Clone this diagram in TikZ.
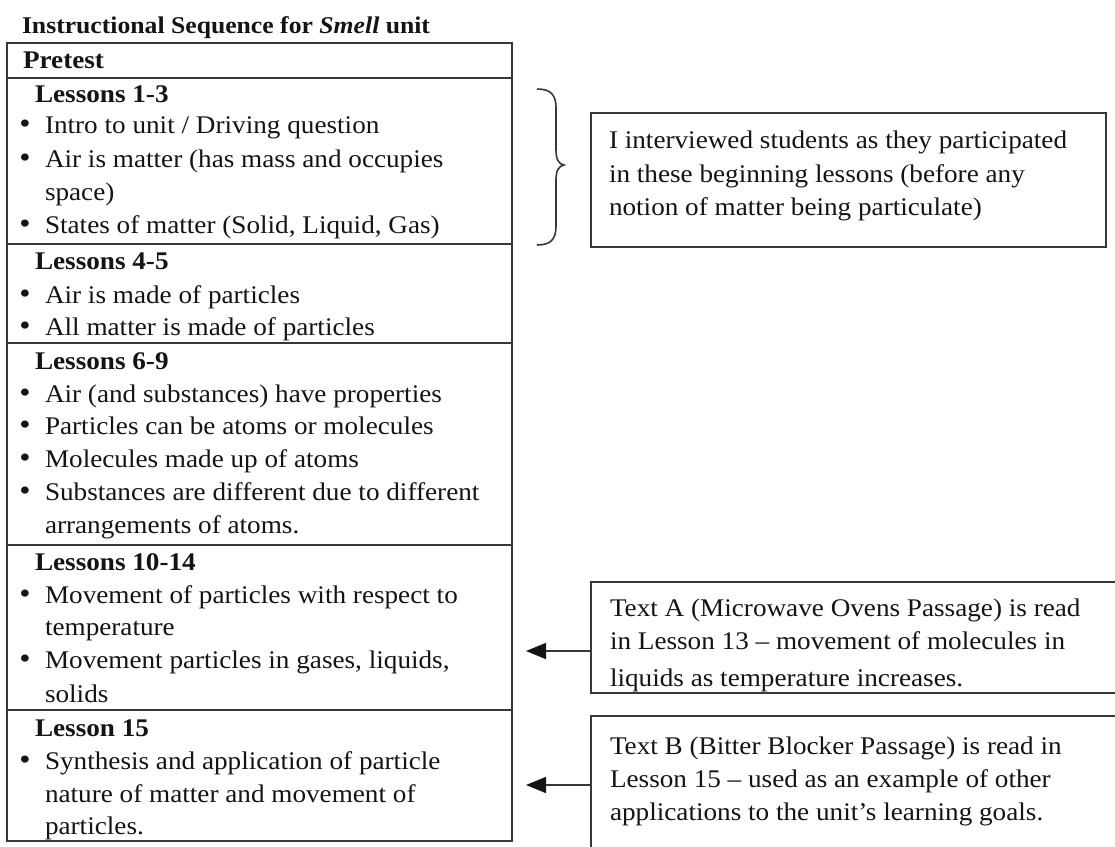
\documentclass[tikz,border=0pt]{standalone}
\usepackage{fontspec}
\setmainfont{Liberation Serif}[FakeStretch=1.07]
\usetikzlibrary{arrows.meta}
\definecolor{ink}{HTML}{141414}
\definecolor{edge}{HTML}{383838}
\newcommand{\bodyfont}{\fontsize{25.4}{30}\selectfont}
\newcommand{\titlefont}{\fontsize{24}{28}\selectfont}
\newcommand{\bulletmark}{{\fontsize{30}{30}\selectfont\textbullet}}
\tikzset{
  ln/.style={anchor=base west, inner sep=0pt, outer sep=0pt, font=\bodyfont, text=ink},
  hd/.style={ln, font=\bodyfont\bfseries},
  bl/.style={anchor=base, inner sep=0pt, outer sep=0pt, text=ink},
  frame/.style={draw=edge, line width=1.6pt, rectangle, inner sep=0pt, outer sep=0pt, anchor=north west},
  arr/.style={draw=edge, line width=1.6pt, -{Triangle[length=20pt,width=16pt,fill=ink,color=ink]}},
  bracestyle/.style={draw=edge, line width=1.6pt}
}
\begin{document}
\begin{tikzpicture}[x=1pt,y=-1pt]
\clip (0,0) rectangle (1115,846);
\fill[white] (0,0) rectangle (1115,846);

% title
\node[ln, font=\titlefont\bfseries] (title) at (22,33) {Instructional Sequence for \textit{Smell} unit};

% table rows
\node[frame, minimum width=505pt, minimum height=35pt]  (r0) at (7,43)  {};
\node[frame, minimum width=505pt, minimum height=166pt] (r1) at (7,78)  {};
\node[frame, minimum width=505pt, minimum height=99pt]  (r2) at (7,244) {};
\node[frame, minimum width=505pt, minimum height=202pt] (r3) at (7,343) {};
\node[frame, minimum width=505pt, minimum height=165pt] (r4) at (7,545) {};
\node[frame, minimum width=505pt, minimum height=131pt] (r5) at (7,710) {};

% row texts
\node[hd] (p0) at (23,68) {Pretest};

\node[hd] (h1) at (35,102) {Lessons 1-3};
\node[bl] (b11) at (25,133) {\bulletmark};
\node[ln] (t11) at (45,133) {Intro to unit / Driving question};
\node[bl] (b12) at (25,167) {\bulletmark};
\node[ln] (t12) at (45,167) {Air is matter (has mass and occupies};
\node[ln] (t13) at (45,200) {space)};
\node[bl] (b14) at (25,233) {\bulletmark};
\node[ln] (t14) at (45,233) {States of matter (Solid, Liquid, Gas)};

\node[hd] (h2) at (35,269) {Lessons 4-5};
\node[bl] (b21) at (25,303) {\bulletmark};
\node[ln] (t21) at (45,303) {Air is made of particles};
\node[bl] (b22) at (25,335) {\bulletmark};
\node[ln] (t22) at (45,335) {All matter is made of particles};

\node[hd] (h3) at (35,369) {Lessons 6-9};
\node[bl] (b31) at (25,402) {\bulletmark};
\node[ln] (t31) at (45,402) {Air (and substances) have properties};
\node[bl] (b32) at (25,434) {\bulletmark};
\node[ln] (t32) at (45,434) {Particles can be atoms or molecules};
\node[bl] (b33) at (25,467) {\bulletmark};
\node[ln] (t33) at (45,467) {Molecules made up of atoms};
\node[bl] (b34) at (25,500) {\bulletmark};
\node[ln] (t34) at (45,500) {Substances are different due to different};
\node[ln] (t35) at (45,533) {arrangements of atoms.};

\node[hd] (h4) at (35,570) {Lessons 10-14};
\node[bl] (b41) at (25,603) {\bulletmark};
\node[ln] (t41) at (45,603) {Movement of particles with respect to};
\node[ln] (t42) at (45,635) {temperature};
\node[bl] (b43) at (25,668) {\bulletmark};
\node[ln] (t43) at (45,668) {Movement particles in gases, liquids,};
\node[ln] (t44) at (45,702) {solids};

\node[hd] (h5) at (35,736) {Lesson 15};
\node[bl] (b51) at (25,769) {\bulletmark};
\node[ln] (t51) at (45,769) {Synthesis and application of particle};
\node[ln] (t52) at (45,802) {nature of matter and movement of};
\node[ln] (t53) at (45,834) {particles.};

% side boxes texts
\node[ln] (n11) at (609,148) {I interviewed students as they participated};
\node[ln] (n12) at (609,182) {in these beginning lessons (before any};
\node[ln] (n13) at (609,215) {notion of matter being particulate)};

\node[ln] (na1) at (610,616) {Text A (Microwave Ovens Passage) is read};
\node[ln] (na2) at (610,649) {in Lesson 13 -- movement of molecules in};
\node[ln] (na3) at (610,686) {liquids as temperature increases.};

\node[ln] (nb1) at (610,754) {Text B (Bitter Blocker Passage) is read in};
\node[ln] (nb2) at (610,787) {Lesson 15 -- used as an example of other};
\node[ln] (nb3) at (610,820) {applications to the unit’s learning goals.};

% side boxes
\fill[white] (591,692) rectangle (1115,700);
\node[frame, minimum width=515pt, minimum height=134pt] (note) at (591,113) {};
\node[frame, minimum width=560pt, minimum height=111pt] (boxA) at (591,582) {};
\node[frame, minimum width=560pt, minimum height=200pt] (boxB) at (591,716) {};

% brace
\draw[bracestyle] (537,89) .. controls (551,89) and (556,95) .. (556,108)
  -- (556,150) .. controls (556,160) and (559,164) .. (564,165)
  .. controls (559,166) and (556,170) .. (556,180)
  -- (556,226) .. controls (556,239) and (551,245) .. (537,245);

% arrows
\coordinate (ya) at (0,651);
\coordinate (yb) at (0,785);
\draw[arr, shorten >=14pt] (boxA.west |- ya) -- (r4.east |- ya);
\draw[arr, shorten >=14pt] (boxB.west |- yb) -- (r5.east |- yb);
\end{tikzpicture}
\end{document}
